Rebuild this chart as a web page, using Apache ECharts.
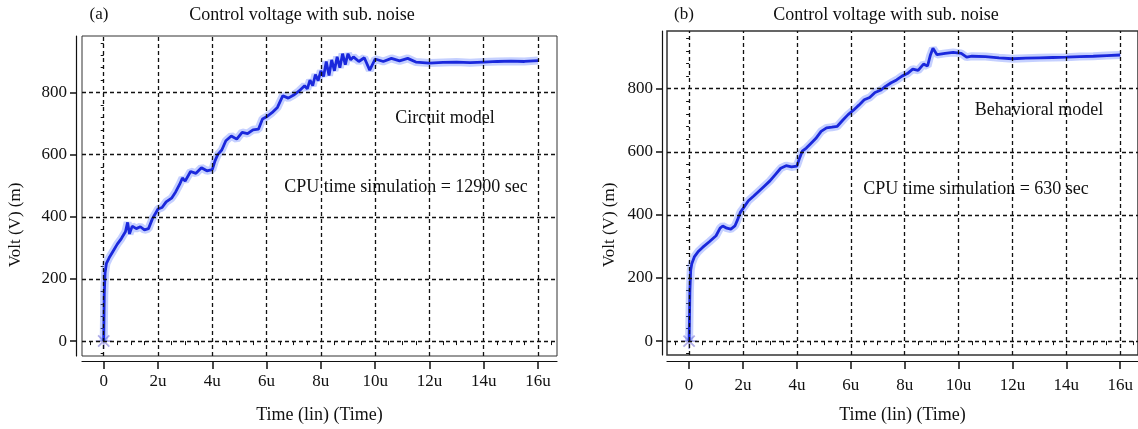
<!DOCTYPE html>
<html>
<head>
<meta charset="utf-8">
<script src="https://cdn.jsdelivr.net/npm/echarts@6/dist/echarts.min.js"></script>
<style>
  html, body { margin: 0; padding: 0; background: #fff; }
  #chart { width: 1138px; height: 429px; }
</style>
</head>
<body>
<div id="chart"></div>
<script>
// tick labels
var xTicks = [0, 2, 4, 6, 8, 10, 12, 14, 16];
var xMinor = [-0.5, 0.5, 1, 1.5, 2.5, 3, 3.5, 4.5, 5, 5.5, 6.5, 7, 7.5, 8.5, 9, 9.5, 10.5, 11, 11.5, 12.5, 13, 13.5, 14.5, 15, 15.5, 16.5];
var yTicks = [0, 200, 400, 600, 800];
var yMinor = [-40, 40, 80, 120, 160, 240, 280, 320, 360, 440, 480, 520, 560, 640, 680, 720, 760, 840, 880, 920, 960];

// (a) circuit model, time in u, volt in m
var timeA = [0, 0.02, 0.05, 0.1, 0.2, 0.35, 0.5, 0.65, 0.8, 0.88, 0.95, 1.05, 1.2, 1.35, 1.5, 1.65, 1.8, 1.9, 2.0, 2.15,
  2.3, 2.5, 2.65, 2.8, 2.9, 3.0, 3.2, 3.4, 3.6, 3.8, 4.0, 4.1, 4.2, 4.35, 4.5, 4.7, 4.9, 5.1, 5.3, 5.5,
  5.7, 5.85, 6.0, 6.2, 6.4, 6.6, 6.8, 7.0, 7.2, 7.4, 7.5, 7.6, 7.7, 7.8, 7.9, 8.0, 8.1, 8.2, 8.3, 8.4,
  8.5, 8.6, 8.7, 8.8, 8.9, 9.0, 9.1, 9.2, 9.4, 9.6, 9.8, 10.0, 10.3, 10.6, 10.9, 11.2, 11.5, 12, 12.5, 13,
  13.5, 14, 14.5, 15, 15.5, 16];
var voltA = [0, 150, 220, 250, 268, 290, 312, 330, 352, 382, 345, 370, 362, 368, 358, 362, 395, 410, 425, 430,
  448, 460, 480, 505, 525, 515, 546, 540, 558, 548, 552, 580, 600, 615, 645, 660, 650, 672, 668, 680,
  682, 715, 722, 735, 752, 790, 782, 792, 805, 822, 812, 840, 822, 858, 838, 870, 852, 900, 855, 905,
  870, 915, 880, 925, 890, 925, 905, 915, 900, 912, 872, 908, 900, 910, 902, 910, 898, 895, 897, 898,
  896, 898, 900, 901, 900, 903];

// (b) behavioral model
var timeB = [0, 0.03, 0.06, 0.1, 0.2, 0.35, 0.5, 0.75, 1.0, 1.15, 1.25, 1.4, 1.55, 1.7, 1.8, 1.9, 2.0, 2.2, 2.4, 2.6,
  2.8, 3.0, 3.2, 3.4, 3.6, 3.8, 4.0, 4.1, 4.2, 4.35, 4.5, 4.7, 4.9, 5.1, 5.3, 5.5, 5.7, 5.9, 6.1, 6.3,
  6.5, 6.7, 6.9, 7.1, 7.3, 7.5, 7.7, 7.9, 8.1, 8.3, 8.5, 8.7, 8.85, 8.95, 9.05, 9.2, 9.5, 9.8, 10.1, 10.3,
  10.5, 11, 11.5, 12, 12.5, 13, 13.5, 14, 14.5, 15, 15.5, 16];
var voltB = [0, 160, 225, 245, 268, 285, 297, 315, 334, 358, 365, 358, 355, 365, 385, 408, 420, 445, 460, 476,
  492, 508, 528, 548, 556, 552, 555, 580, 602, 612, 625, 642, 665, 676, 678, 681, 700, 718, 732, 748,
  765, 772, 788, 795, 808, 819, 828, 840, 848, 862, 858, 878, 872, 905, 928, 908, 912, 915, 912, 900,
  903, 902, 898, 895, 897, 898, 899, 900, 902, 903, 905, 907];

var serif = '"Liberation Serif", "DejaVu Serif", serif';

function pairs(t, v) {
  return t.map(function (x, i) { return [x, v[i]]; });
}

function mainX(grid, offset, min, max, labelMargin) {
  return {
    gridIndex: grid, type: 'value', min: min, max: max, offset: offset,
    axisLine: { show: true, onZero: false, lineStyle: { color: '#111', width: 1.2 } },
    axisTick: { show: true, length: 8, customValues: xTicks, lineStyle: { color: '#111', width: 1.5 } },
    axisLabel: {
      customValues: xTicks, margin: labelMargin, color: '#111', fontFamily: serif, fontSize: 17,
      formatter: function (v) { return v === 0 ? '0' : v + 'u'; }
    },
    splitLine: { show: false },
    name: 'Time (lin) (Time)', nameLocation: 'middle', nameGap: 45,
    nameTextStyle: { color: '#111', fontFamily: serif, fontSize: 18 }
  };
}
function minorX(grid, offset, min, max) {
  return {
    gridIndex: grid, type: 'value', min: min, max: max, offset: offset, position: 'bottom',
    axisLine: { show: false },
    axisTick: { show: true, length: 4, customValues: xMinor, lineStyle: { color: '#111' } },
    axisLabel: { show: false }, splitLine: { show: false }
  };
}
function mainY(grid, offset, min, max, labelMargin) {
  return {
    gridIndex: grid, type: 'value', min: min, max: max, offset: offset,
    axisLine: { show: true, onZero: false, lineStyle: { color: '#111', width: 1.2 } },
    axisTick: { show: true, length: 6, customValues: yTicks, lineStyle: { color: '#111', width: 1.5 } },
    axisLabel: { customValues: yTicks, margin: labelMargin, color: '#111', fontFamily: serif, fontSize: 17 },
    splitLine: { show: false }
  };
}
function minorY(grid, offset, min, max) {
  return {
    gridIndex: grid, type: 'value', min: min, max: max, offset: offset, position: 'left',
    axisLine: { show: false },
    axisTick: { show: true, length: 3, customValues: yMinor, lineStyle: { color: '#111' } },
    axisLabel: { show: false }, splitLine: { show: false }
  };
}

function gridLines() {
  return xTicks.map(function (v) { return { xAxis: v }; })
    .concat(yTicks.map(function (v) { return { yAxis: v }; }));
}

function curve(xi, yi, data) {
  return [{
    type: 'line', xAxisIndex: xi, yAxisIndex: yi, data: data, showSymbol: false, z: 3,
    lineStyle: { color: 'rgba(90,120,255,0.35)', width: 8 }, silent: true
  }, {
    type: 'line', xAxisIndex: xi, yAxisIndex: yi, data: data, showSymbol: false, z: 4,
    lineStyle: { color: '#1a28dc', width: 2.8 }, silent: true
  }];
}

function start(xi, yi) {
  return {
    type: 'scatter', xAxisIndex: xi, yAxisIndex: yi, data: [[0, 0]], z: 2, silent: true,
    symbol: 'path://M10,0L10,20M0,10L20,10M3,3L17,17M3,17L17,3', symbolSize: 16,
    itemStyle: { color: 'none', borderColor: '#9c98e2', borderWidth: 1.8 },
    markLine: {
      silent: true, symbol: ['none', 'none'], label: { show: false }, animation: false,
      lineStyle: { color: '#111', type: [4, 3], width: 1.3 },
      data: gridLines()
    }
  };
}

function txt(x, y, s, size, rot) {
  return {
    type: 'text', x: x, y: y, rotation: rot || 0,
    style: { text: s, font: size + 'px ' + serif, fill: '#111', align: 'center', verticalAlign: 'middle' }
  };
}

var chart = echarts.init(document.getElementById('chart'));
chart.setOption({
  animation: false,
  backgroundColor: '#fff',
  grid: [
    { left: 82, top: 36, width: 475, height: 323, show: true, borderColor: '#333', borderWidth: 1 },
    { left: 667, top: 31, width: 471, height: 326, show: true, borderColor: '#333', borderWidth: 1.5 }
  ],
  xAxis: [
    mainX(0, 5, -0.8, 16.7, 12), minorX(0, 5, -0.8, 16.7),
    mainX(1, 6, -0.82, 16.66, 16), minorX(1, 6, -0.82, 16.66)
  ],
  yAxis: [
    mainY(0, 6, -48, 982, 9), minorY(0, 6, -48, 982),
    mainY(1, 5, -44, 983, 9), minorY(1, 5, -44, 983)
  ],
  series: [start(0, 0)].concat(curve(0, 0, pairs(timeA, voltA)))
    .concat([start(2, 2)]).concat(curve(2, 2, pairs(timeB, voltB))),
  graphic: [
    txt(99, 15, '(a)', 17),
    txt(302, 15, 'Control voltage with sub. noise', 18),
    txt(445, 118, 'Circuit model', 18),
    txt(406, 187, 'CPU time simulation = 12900 sec', 18),
    txt(16, 225, 'Volt (V) (m)', 17, Math.PI / 2),
    txt(684, 15, '(b)', 17),
    txt(886, 15, 'Control voltage with sub. noise', 18),
    txt(1039, 110, 'Behavioral model', 18),
    txt(976, 189, 'CPU time simulation = 630 sec', 18),
    txt(610, 225, 'Volt (V) (m)', 17, Math.PI / 2)
  ]
});
</script>
</body>
</html>
